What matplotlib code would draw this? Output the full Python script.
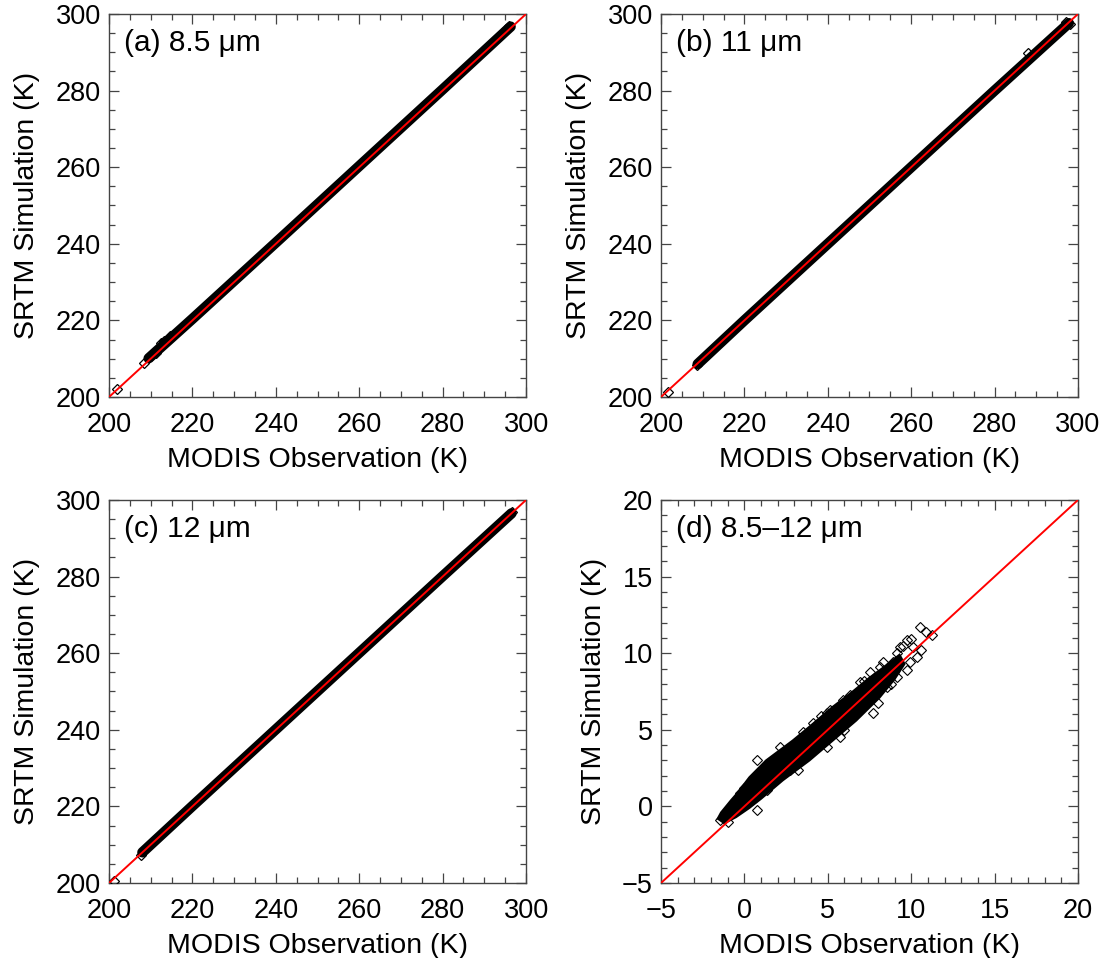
import matplotlib
matplotlib.use("Agg")
import matplotlib.pyplot as plt
from matplotlib.ticker import MultipleLocator

plt.rcParams['font.family'] = ['Liberation Sans', 'DejaVu Sans']

# centre line of the dense band of points (obs, sim) for each channel
band_a_obs = [209.5, 220.0, 240.0, 260.0, 280.0, 296.3]
band_a_sim = [210.1, 220.4, 240.3, 260.3, 280.3, 296.7]
band_b_obs = [208.8, 220.0, 240.0, 260.0, 280.0, 297.8]
band_b_sim = [208.6, 220.0, 240.0, 260.0, 280.0, 297.6]
band_c_obs = [208.0, 220.0, 240.0, 260.0, 280.0, 296.5]
band_c_sim = [208.0, 220.1, 240.1, 260.1, 280.1, 296.5]

# single points visible off / at the ends of the band
pts_a_obs = [202.0, 208.3, 210.0, 211.2, 212.4, 213.2, 214.6, 295.2, 296.0]
pts_a_sim = [202.2, 209.0, 210.6, 211.5, 214.0, 214.6, 215.8, 296.2, 296.9]
pts_b_obs = [201.8, 208.6, 209.4, 288.0, 297.2, 298.0]
pts_b_sim = [201.2, 208.3, 209.4, 289.8, 297.8, 297.4]
pts_c_obs = [201.2, 207.6, 208.5, 209.5, 295.8, 296.6]
pts_c_sim = [200.6, 207.3, 208.7, 209.9, 296.2, 296.8]

# brightness-temperature difference 8.5-12 um: saturated core outline
core_d_x = [-1.6, -1.4, -0.8, -0.4, 0.3, 1.3, 2.9, 3.9, 5.3, 6.5, 7.5, 8.5, 9.3,
            9.6, 9.0, 8.1, 6.7, 5.3, 3.9, 2.3, 1.0, 0.3, -0.5, -1.2]
core_d_y = [-0.8, -0.4, 0.4, 0.9, 1.9, 3.0, 4.3, 5.2, 6.5, 7.5, 8.4, 9.2, 9.9,
            9.3, 8.3, 7.1, 5.6, 4.3, 3.0, 1.7, 0.5, -0.1, -0.7, -1.1]
# scattered points around the core
pts_d_obs = [10.53, 11.23, 10.9, 9.73, 9.13, 10.33, 8.93, 9.73, 7.53, 6.93,
             8.53, 8.03, 6.33, 5.13, 3.53, 5.73, 0.74, -1.46, -0.26, 7.73,
             4.13, 6.93, 5.93, 8.73, 10.13, 9.33, 8.13, 4.93, 2.13, 0.74,
             2.73, 1.34, 4.93, 9.13, 9.93, -1.0, 0.0, 1.8, 3.2, 6.0,
             10.0, 10.6, 9.5, 8.3, 7.2, 6.6, 5.5, 4.6, 7.9, 8.8]
pts_d_sim = [11.73, 11.19, 11.4, 10.86, 9.99, 9.77, 9.45, 8.90, 8.79, 8.14,
             7.81, 6.73, 7.27, 6.29, 4.88, 4.55, -0.24, -0.89, 0.86, 6.07,
             5.42, 7.38, 6.95, 8.69, 10.42, 10.42, 9.12, 6.07, 3.90, 3.03,
             2.38, 1.07, 3.90, 8.47, 9.45, -1.0, 1.2, 3.1, 2.4, 5.0,
             10.9, 10.2, 10.5, 9.4, 8.2, 6.1, 5.4, 5.9, 7.5, 8.0]

labels = ['(a) 8.5 μm', '(b) 11 μm', '(c) 12 μm', '(d) 8.5–12 μm']

fig = plt.figure(figsize=(11.07, 9.58), dpi=100)
boxes = [[0.0985, 0.5856, 0.3767, 0.3998], [0.5971, 0.5856, 0.3767, 0.3998],
         [0.0985, 0.0783, 0.3767, 0.3998], [0.5971, 0.0783, 0.3767, 0.3998]]
axes = [fig.add_axes(b) for b in boxes]

spine_c = '#444444'


def style(ax, lo, hi, major, minor):
    ax.set_xlim(lo, hi)
    ax.set_ylim(lo, hi)
    ax.xaxis.set_major_locator(MultipleLocator(major))
    ax.yaxis.set_major_locator(MultipleLocator(major))
    ax.xaxis.set_minor_locator(MultipleLocator(minor))
    ax.yaxis.set_minor_locator(MultipleLocator(minor))
    ax.tick_params(which='both', direction='in', top=True, right=True,
                   color=spine_c, width=0.9, labelsize=19.5)
    ax.tick_params(which='major', length=7)
    ax.tick_params(which='minor', length=4)
    ax.tick_params(axis='x', pad=11)
    ax.tick_params(axis='y', pad=6)
    for s in ax.spines.values():
        s.set_color(spine_c)
        s.set_linewidth(1.0)
    ax.set_xlabel('MODIS Observation (K)', fontsize=20.5, labelpad=6)
    ax.set_ylabel('SRTM Simulation (K)', fontsize=20.5, labelpad=11)
    ax.plot([lo, hi], [lo, hi], color='red', lw=1.4, zorder=5)


bands = [(band_a_obs, band_a_sim, pts_a_obs, pts_a_sim),
         (band_b_obs, band_b_sim, pts_b_obs, pts_b_sim),
         (band_c_obs, band_c_sim, pts_c_obs, pts_c_sim)]

for ax, (bx, by, px, py), lab in zip(axes[:3], bands, labels[:3]):
    ax.plot(bx, by, color='black', lw=7.5, solid_capstyle='round', zorder=3)
    ax.plot(px, py, 'D', ms=5, mfc='none', mec='black', mew=0.9, zorder=3)
    style(ax, 200, 300, 20, 5)
    ax.text(0.035, 0.925, lab, transform=ax.transAxes, fontsize=21.5,
            va='center', ha='left')

ax = axes[3]
ax.fill(core_d_x, core_d_y, color='black', lw=1.5, ec='black', zorder=3)
ax.plot(pts_d_obs, pts_d_sim, 'D', ms=5.5, mfc='none', mec='black', mew=0.8,
        zorder=3)
style(ax, -5, 20, 5, 1)
ax.text(0.035, 0.925, labels[3], transform=ax.transAxes, fontsize=21.5,
        va='center', ha='left')

fig.savefig('out.png', dpi=100)
